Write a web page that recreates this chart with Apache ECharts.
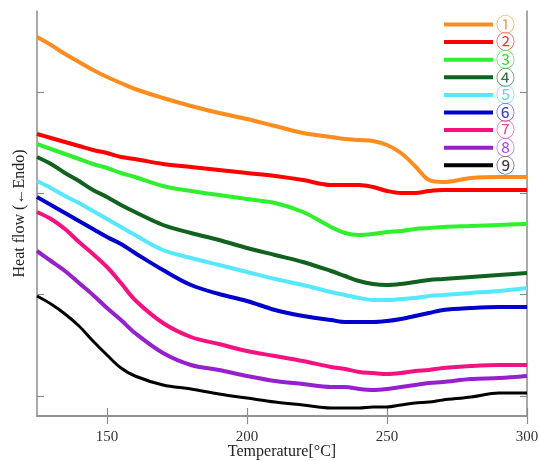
<!DOCTYPE html>
<html>
<head>
<meta charset="utf-8">
<script src="https://cdn.jsdelivr.net/npm/echarts@6/dist/echarts.min.js"></script>
<style>
  html, body { margin: 0; padding: 0; background: #fff; }
  #chart { width: 539px; height: 461px; }
</style>
</head>
<body>
<div id="chart"></div>
<script>
// temperature grid (°C)
var temps = [125, 130, 135, 140, 145, 150, 155, 160, 170, 180, 190, 200, 210, 220,
             230, 235, 240, 245, 250, 255, 260, 265, 270, 280, 290, 300];

// heat flow curves (arbitrary units, offset per sample)
var s1 = [37.9, 37.1, 36.2, 35.4, 34.6, 33.9, 33.3, 32.7, 31.8, 31.0, 30.3, 29.7, 29.0, 28.3,
          27.9, 27.7, 27.6, 27.5, 27.1, 26.3, 25.0, 23.6, 23.4, 23.8, 23.9, 23.9];
var s2 = [28.2, 27.8, 27.4, 27.0, 26.6, 26.3, 25.9, 25.7, 25.2, 24.9, 24.6, 24.3, 24.0, 23.6,
          23.1, 23.1, 23.1, 22.9, 22.5, 22.3, 22.3, 22.5, 22.6, 22.6, 22.6, 22.6];
var s3 = [27.2, 26.7, 26.2, 25.7, 25.2, 24.8, 24.3, 23.9, 23.0, 22.5, 22.1, 21.7, 21.3, 20.4,
          18.9, 18.3, 18.1, 18.2, 18.4, 18.5, 18.7, 18.8, 18.9, 19.0, 19.1, 19.2];
var s4 = [25.9, 25.2, 24.3, 23.5, 22.6, 21.9, 21.1, 20.4, 19.1, 18.3, 17.6, 16.8, 16.1, 15.4,
          14.5, 14.0, 13.5, 13.2, 13.1, 13.2, 13.4, 13.6, 13.7, 13.9, 14.1, 14.3];
var s5 = [23.5, 22.8, 22.0, 21.3, 20.5, 19.7, 18.9, 18.1, 16.6, 15.8, 15.1, 14.4, 13.7, 13.1,
          12.4, 12.1, 11.8, 11.6, 11.6, 11.7, 11.8, 12.0, 12.1, 12.3, 12.5, 12.8];
var s6 = [21.9, 21.1, 20.3, 19.5, 18.7, 17.9, 17.2, 16.3, 14.6, 13.1, 12.2, 11.5, 10.6, 10.0,
          9.6, 9.4, 9.4, 9.4, 9.5, 9.7, 10.0, 10.3, 10.6, 10.8, 10.9, 10.9];
var s7 = [20.4, 19.7, 18.7, 17.4, 16.2, 14.9, 13.3, 11.6, 9.3, 7.9, 7.2, 6.5, 6.0, 5.5,
          4.9, 4.7, 4.4, 4.3, 4.2, 4.3, 4.5, 4.6, 4.8, 5.0, 5.1, 5.1];
var s8 = [16.5, 15.5, 14.5, 13.3, 12.1, 10.8, 9.6, 8.3, 6.3, 5.1, 4.6, 4.0, 3.5, 3.2,
          2.9, 2.9, 2.7, 2.6, 2.7, 2.9, 3.1, 3.3, 3.4, 3.7, 3.8, 4.0];
var s9 = [12.0, 11.2, 10.2, 9.0, 7.5, 6.1, 4.8, 4.0, 3.1, 2.7, 2.2, 1.8, 1.4, 1.1,
          0.8, 0.8, 0.8, 0.9, 0.9, 1.1, 1.3, 1.4, 1.6, 1.9, 2.3, 2.3];

var names = ['①', '②', '③', '④', '⑤', '⑥', '⑦', '⑧', '⑨'];
var values = [s1, s2, s3, s4, s5, s6, s7, s8, s9];
var colors = ['#ff8c1e', '#ff0000', '#2ef02e', '#11621f', '#55e8ff', '#0000cc', '#f5117f', '#9620cc', '#000000'];
var textColors = ['#f5a04a', '#f03a3a', '#3fd43f', '#3f6a44', '#5fd8ee', '#3d3dd0', '#f04a90', '#b24ee0', '#3a3a3a'];

var xTicks = [150, 200, 250, 300];
var yTicks = [2.0, 12.2, 22.3, 32.4];

var dom = document.getElementById('chart');
var myChart = echarts.init(dom);

var frameLine = { show: true, lineStyle: { color: '#8c8c8c', width: 1.5 } };
var tickStyle = { lineStyle: { color: '#8c8c8c', width: 1.2 } };

var series = [];
for (var k = 0; k < names.length; k++) {
    series.push({
        name: names[k],
        type: 'line',
        smooth: 0.35,
        showSymbol: false,
        data: temps.map(function (t, i) { return [t, values[k][i]]; }),
        lineStyle: { color: colors[k], width: k === 8 ? 3 : 4 },
        itemStyle: { color: colors[k] }
    });
}

var option = {
    backgroundColor: '#fff',
    animation: false,
    grid: { left: 37, top: 11, right: 12, bottom: 45, outerBoundsMode: 'none', containLabel: false },
    legend: {
        left: 444,
        top: 15,
        orient: 'vertical',
        icon: 'rect',
        itemWidth: 49,
        itemHeight: 4,
        itemGap: -1.4,
        padding: 0,
        data: names.map(function (n, i) {
            return { name: n, textStyle: { color: textColors[i] } };
        }),
        textStyle: {
            fontFamily: 'Noto Sans CJK JP',
            fontSize: 19,
            lineHeight: 16,
            padding: [0, 0, 0, -2]
        }
    },
    xAxis: [{
        type: 'value',
        min: 125,
        max: 300,
        position: 'bottom',
        name: 'Temperature[°C]',
        nameLocation: 'middle',
        nameGap: 28,
        nameMoveOverlap: false,
        nameTextStyle: { fontFamily: 'Liberation Serif', fontSize: 16, color: '#222' },
        axisLine: frameLine,
        axisTick: Object.assign({ inside: true, length: 8, customValues: xTicks }, tickStyle),
        axisLabel: { customValues: xTicks, margin: 14, fontFamily: 'Liberation Serif', fontSize: 15, color: '#333' },
        splitLine: { show: false }
    }, {
        type: 'value',
        min: 125,
        max: 300,
        position: 'top',
        axisLine: frameLine,
        axisTick: Object.assign({ inside: true, length: 8, customValues: xTicks }, tickStyle),
        axisLabel: { show: false },
        splitLine: { show: false }
    }],
    yAxis: [{
        type: 'value',
        min: 0,
        max: 40.5,
        position: 'left',
        name: 'Heat flow (←Endo)',
        nameLocation: 'middle',
        nameGap: 9,
        nameMoveOverlap: false,
        nameTextStyle: { fontFamily: 'Liberation Serif', fontSize: 16, color: '#222' },
        axisLine: frameLine,
        axisTick: Object.assign({ inside: true, length: 7, customValues: yTicks }, tickStyle),
        axisLabel: { show: false },
        splitLine: { show: false }
    }, {
        type: 'value',
        min: 0,
        max: 40.5,
        position: 'right',
        axisLine: frameLine,
        axisTick: Object.assign({ inside: true, length: 7, customValues: yTicks }, tickStyle),
        axisLabel: { show: false },
        splitLine: { show: false }
    }],
    series: series
};

myChart.setOption(option, true);
</script>
</body>
</html>
